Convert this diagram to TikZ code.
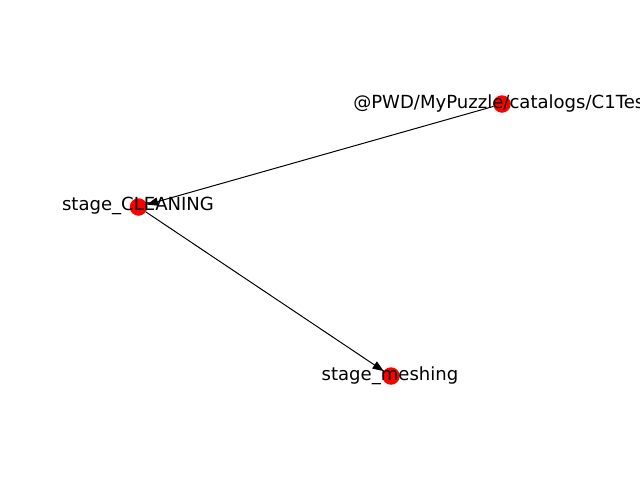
\documentclass[tikz,border=0pt]{standalone}
\usepackage{fontspec}
\setmainfont{DejaVu Sans}
\usetikzlibrary{arrows.meta}
\begin{document}
\begin{tikzpicture}[x=0.72pt,y=-0.72pt,
  vertex/.style={circle,fill=red,draw=none,minimum size=12.6pt,inner sep=0pt,outer sep=0pt},
  lab/.style={font=\fontsize{13pt}{15pt}\selectfont,inner sep=0pt,text=black},
  edge/.style={draw=black,line width=0.72pt,-{Triangle[length=8pt,width=6pt]}}]
\useasboundingbox (0,0) rectangle (640,480);
\clip (0,0) rectangle (640,480);
\node[vertex] (src) at (502,104) {};
\node[vertex] (cln) at (138.5,207) {};
\node[vertex] (msh) at (391,376) {};
\draw[edge] (src) -- (cln);
\draw[edge] (cln) -- (msh);
\node[lab,anchor=west] (srcl) at (353,104) {@PWD/MyPuzzle/catalogs/C1Tes};
\node[lab] (clnl) at (138,206) {stage\_CLEANING};
\node[lab] (mshl) at (390,376) {stage\_meshing};
\end{tikzpicture}
\end{document}
